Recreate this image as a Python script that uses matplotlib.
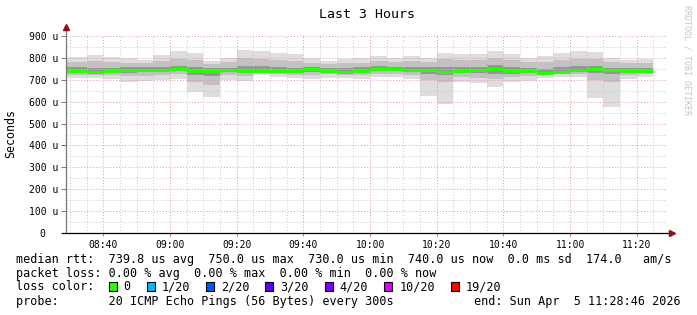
from datetime import datetime, timedelta

import matplotlib
matplotlib.use('Agg')
import matplotlib.pyplot as plt
import matplotlib.dates as mdates
from matplotlib.patches import Rectangle
from matplotlib.ticker import FuncFormatter, MultipleLocator
import numpy as np

W, H = 697, 315
MONO = 'DejaVu Sans Mono'

# time range of the graph (rrd steps of 5 minutes)
t_start = datetime(2026, 4, 5, 8, 28, 46)
t_end = datetime(2026, 4, 5, 11, 28, 46)
first_step_end = datetime(2026, 4, 5, 8, 35)

# values in microseconds, one per 5 minute step
median = [740, 737, 739, 743, 746, 743, 749, 740, 740, 743, 741, 742,
          742, 740, 748, 742, 737, 742, 750, 748, 745, 743, 737, 742,
          743, 748, 740, 739, 731, 737, 746, 748, 743, 742, 742]
ping_max = [805, 813, 802, 798, 792, 813, 831, 822, 786, 801, 838, 831,
            822, 816, 798, 786, 795, 798, 807, 801, 809, 798, 822, 816,
            816, 831, 816, 801, 810, 822, 831, 825, 798, 790, 795]
ping_min = [707, 707, 704, 692, 695, 697, 704, 646, 623, 700, 696, 722,
            714, 708, 702, 708, 707, 702, 711, 714, 704, 627, 588, 688,
            684, 669, 691, 694, 707, 714, 713, 618, 577, 704, 711]
ping_hi = [782, 785, 780, 778, 775, 785, 795, 790, 770, 780, 800, 795,
           790, 785, 778, 770, 775, 778, 785, 780, 785, 780, 795, 790,
           790, 800, 790, 780, 780, 790, 795, 795, 780, 775, 778]
ping_lo = [722, 724, 722, 715, 718, 720, 725, 690, 675, 722, 718, 730,
           726, 724, 722, 726, 722, 720, 726, 728, 722, 700, 690, 712,
           710, 705, 712, 715, 720, 726, 728, 700, 690, 722, 726]
ping_hi2 = [758, 756, 754, 757, 758, 760, 765, 758, 752, 756, 762, 762,
            758, 756, 760, 754, 752, 757, 765, 760, 760, 758, 760, 760,
            760, 768, 760, 752, 750, 758, 762, 765, 756, 754, 756]
ping_lo2 = [733, 730, 732, 732, 735, 734, 738, 722, 718, 735, 732, 736,
            734, 732, 736, 734, 730, 733, 740, 738, 734, 726, 720, 730,
            730, 728, 728, 730, 724, 730, 737, 730, 725, 733, 734]

loss_labels = ['0', '1/20', '2/20', '3/20', '4/20', '10/20', '19/20']
loss_colors = ['#26ff00', '#00b8ff', '#0059ff', '#5e00ff', '#7e00ff',
               '#dd00ff', '#ff0000']

legend_lines = [
    'median rtt:  739.8 us avg  750.0 us max  730.0 us min  740.0 us now  0.0 ms sd  174.0   am/s',
    'packet loss: 0.00 % avg  0.00 % max  0.00 % min  0.00 % now',
    'loss color:',
    'probe:       20 ICMP Echo Pings (56 Bytes) every 300s',
]
end_text = 'end: Sun Apr  5 11:28:46 2026'


def fx(x):
    return x / W


def fy(y):
    return 1 - y / H


edges = [t_start] + [first_step_end + timedelta(minutes=5 * i) for i in range(len(median))]
xe = mdates.date2num(edges)
left = xe[:-1]
width = np.diff(xe)

fig = plt.figure(figsize=(W / 100, H / 100), dpi=100)
fig.patch.set_facecolor('white')
ax = fig.add_axes([fx(66), fy(233), 600 / W, 197 / H])

pmax = np.asarray(ping_max)
pmin = np.asarray(ping_min)
ax.bar(left, pmax - pmin, bottom=pmin, width=width, align='edge',
       color='#dddddd', linewidth=0)
ax.bar(left, np.asarray(ping_hi) - np.asarray(ping_lo), bottom=ping_lo,
       width=width, align='edge', color='#c2c2c2', linewidth=0)
ax.bar(left, np.asarray(ping_hi2) - np.asarray(ping_lo2), bottom=ping_lo2,
       width=width, align='edge', color='#969696', linewidth=0)
ax.hlines(median, left, left + width, color=loss_colors[0], linewidth=2.2)

ax.set_xlim(mdates.date2num(t_start), mdates.date2num(t_end))
ax.set_ylim(0, 900)

ax.yaxis.set_major_locator(MultipleLocator(100))
ax.yaxis.set_minor_locator(MultipleLocator(50))
ax.yaxis.set_major_formatter(FuncFormatter(lambda v, p: '0  ' if v == 0 else f'{v:.0f} u'))
ax.xaxis.set_major_locator(mdates.MinuteLocator(byminute=[0, 20, 40]))
ax.xaxis.set_minor_locator(mdates.MinuteLocator(byminute=range(0, 60, 5)))
ax.xaxis.set_major_formatter(mdates.DateFormatter('%H:%M'))

ax.grid(which='minor', color='#c8c8c8', linestyle=(0, (1, 2)), linewidth=0.7)
ax.grid(which='major', color='#e09a9a', linestyle=(0, (1, 2)), linewidth=0.7)

for s in ax.spines.values():
    s.set_visible(False)

ax.tick_params(axis='y', which='major', length=3.6, width=0.7, color='#777777',
               pad=2.2, labelsize=7)
ax.tick_params(axis='y', which='minor', length=0)
ax.tick_params(axis='x', which='major', length=2.2, width=0.7, color='#d07070',
               pad=2.5, labelsize=7)
ax.tick_params(axis='x', which='minor', length=0)
for lab in ax.get_xticklabels() + ax.get_yticklabels():
    lab.set_fontfamily(MONO)

# axis lines with arrow heads
ax.plot([0, 0], [0, 1.04], transform=ax.transAxes, color='#777777',
        linewidth=0.9, clip_on=False, zorder=5)
ax.plot([-0.007, 1.01], [0, 0], transform=ax.transAxes, color='black',
        linewidth=0.9, clip_on=False, zorder=5)
ax.plot([0], [1.045], marker='^', markersize=4, color='#901010',
        transform=ax.transAxes, clip_on=False, zorder=6)
ax.plot([1.01], [0], marker='>', markersize=4, color='#901010',
        transform=ax.transAxes, clip_on=False, zorder=6)

fig.text(fx(367), fy(14), 'Last 3 Hours', ha='center', va='center',
         fontsize=9.5, family=MONO)
fig.text(fx(11), fy(133), 'Seconds', rotation=90, ha='center', va='center',
         fontsize=8.4, family=MONO)
fig.text(fx(687), fy(5), 'RRDTOOL / TOBI OETIKER', rotation=-90, ha='center',
         va='top', fontsize=6, color='#c4c4c4', family=MONO)

for i, line in enumerate(legend_lines):
    fig.text(fx(16), fy(259 + 14 * i), line, ha='left', va='center',
             fontsize=8.5, family=MONO)
fig.text(fx(681), fy(301), end_text, ha='right', va='center',
         fontsize=8.5, family=MONO)

# loss colour boxes
bx = 108.5
for lab, col in zip(loss_labels, loss_colors):
    fig.add_artist(Rectangle((fx(bx), fy(291)), 8 / W, 9 / H,
                             transform=fig.transFigure, facecolor=col,
                             edgecolor='black', linewidth=0.8))
    fig.text(fx(bx + 15), fy(287), lab, ha='left', va='center',
             fontsize=8.5, family=MONO)
    bx += 31 + 7.1 * len(lab)

fig.savefig('out.png', dpi=100)
